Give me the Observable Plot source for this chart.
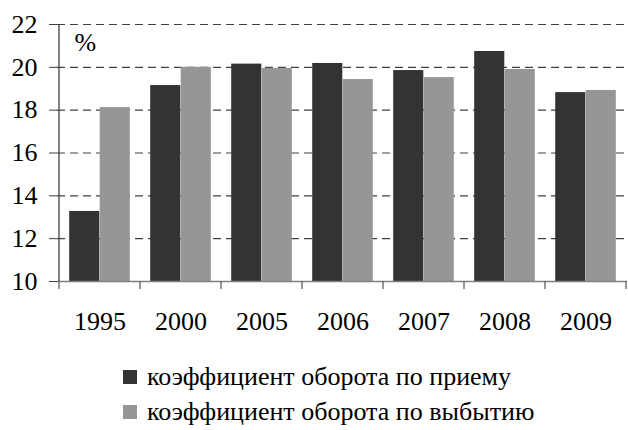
<!DOCTYPE html>
<html><head><meta charset="utf-8">
<script src="https://cdn.jsdelivr.net/npm/d3@7"></script>
<script src="https://cdn.jsdelivr.net/npm/@observablehq/plot@0.6"></script>
<style>
body{margin:0;background:#fff;font-family:"Times New Roman",Tinos,"Liberation Serif","DejaVu Serif",serif;color:#000;}
#chart svg{display:block;}
#legend{margin-top:19px;padding-left:123px;font-size:26px;}
#legend .item{display:flex;align-items:center;height:35px;white-space:nowrap;}
#legend .sw{width:14px;height:14px;margin-right:10px;flex:none;}
</style></head><body><div id="chart"></div><div id="legend"></div><script>
const years = ["1995","2000","2005","2006","2007","2008","2009"];
const hireRate = [13.27,19.15,20.15,20.18,19.85,20.74,18.82];
const leaveRate = [18.12,20.0,19.95,19.43,19.52,19.9,18.92];
const seriesNames = ["коэффициент оборота по приему","коэффициент оборота по выбытию"];
const seriesColors = ["#333333","#969696"];
const yTicks = [10,12,14,16,18,20,22];
const unitLabel = ["%"];
const FONT = '"Times New Roman", Tinos, "Liberation Serif", "DejaVu Serif", serif';

const hireData = years.map((y,i)=>({year:y, value:hireRate[i], series:seriesNames[0]}));
const leaveData = years.map((y,i)=>({year:y, value:leaveRate[i], series:seriesNames[1]}));

const chart = Plot.plot({
  width:628, height:340,
  marginLeft:57, marginRight:1, marginTop:24, marginBottom:59,
  style:{fontFamily:FONT, fontSize:"26px", color:"#000", background:"#fff"},
  x:{domain:years, padding:0, label:null},
  y:{domain:[10,22], label:null},
  color:{domain:seriesNames, range:seriesColors},
  marks:[
    Plot.ruleY(yTicks.slice(1), {stroke:"#404040", strokeWidth:1.2, strokeDasharray:"8,5"}),
    Plot.barY(hireData, {x:"year", y1:10, y2:"value", fill:"series", insetLeft:10.2, insetRight:40.7}),
    Plot.barY(leaveData, {x:"year", y1:10, y2:"value", fill:"series", insetLeft:40.7, insetRight:10.2}),
    Plot.ruleY([10], {stroke:"#808080", strokeWidth:1.5}),
    Plot.axisY(yTicks, {tickSize:8, tickPadding:12, stroke:"#404040", fontSize:26}),
    Plot.axisX({tickSize:0, tickPadding:30, fontSize:26}),
    Plot.text(unitLabel, {frameAnchor:"top-left", textAnchor:"start", lineAnchor:"top", dx:17, dy:8, fontSize:26})
  ]
});
chart.setAttribute("font-family", FONT);
document.getElementById("chart").appendChild(chart);

// band-boundary ticks and left axis line, using Plot's own scales
const xs = chart.scale("x"), ys = chart.scale("y");
const svg = d3.select(chart);
const bounds = years.map(y=>xs.apply(y)).concat([xs.apply(years[years.length-1]) + xs.bandwidth]);
const y0 = ys.apply(10);
svg.append("g").attr("stroke","#606060").attr("stroke-width",1.3)
  .selectAll("line").data(bounds).join("line")
  .attr("x1",d=>d).attr("x2",d=>d).attr("y1",y0).attr("y2",y0+8);
svg.append("line").attr("stroke","#404040").attr("stroke-width",1.3)
  .attr("x1",bounds[0]).attr("x2",bounds[0]).attr("y1",ys.apply(22)).attr("y2",y0);

const legend = d3.select("#legend");
seriesNames.forEach((n,i)=>{
  const it = legend.append("div").attr("class","item");
  it.append("div").attr("class","sw").style("background",seriesColors[i]);
  it.append("span").text(n);
});
</script></body></html>
